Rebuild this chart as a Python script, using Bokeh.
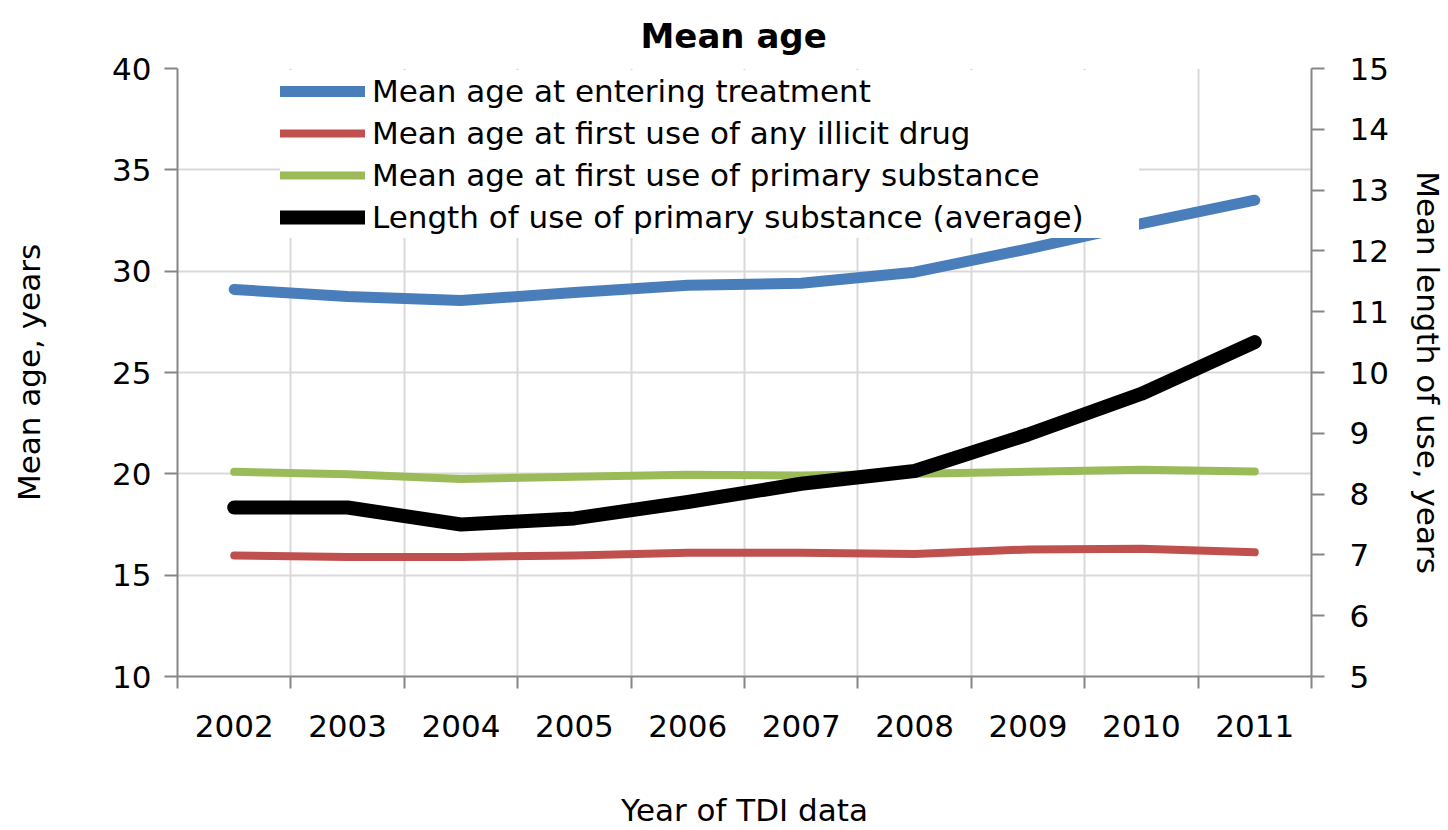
from bokeh.plotting import figure
from bokeh.models import Range1d, LinearAxis, FixedTicker, Legend, LegendItem
from bokeh.embed import file_html
from bokeh.resources import INLINE

# ---- data ----
years = [2002, 2003, 2004, 2005, 2006, 2007, 2008, 2009, 2010, 2011]
year_labels = ["2002", "2003", "2004", "2005", "2006", "2007", "2008", "2009", "2010", "2011"]
age_entering = [29.1, 28.75, 28.55, 28.95, 29.3, 29.4, 29.95, 31.1, 32.35, 33.5]
age_first_illicit = [15.97, 15.9, 15.9, 15.97, 16.1, 16.1, 16.05, 16.27, 16.3, 16.13]
age_first_primary = [20.1, 19.98, 19.75, 19.85, 19.95, 19.92, 20.0, 20.1, 20.2, 20.12]
length_of_use = [7.78, 7.78, 7.5, 7.6, 7.87, 8.17, 8.38, 8.98, 9.65, 10.5]

chart_title = "Mean age"
series_names = [
    "Mean age at entering treatment",
    "Mean age at first use of any illicit drug",
    "Mean age at first use of primary substance",
    "Length of use of primary substance (average)",
]
left_ticks = [10, 15, 20, 25, 30, 35, 40]
right_ticks = [5, 6, 7, 8, 9, 10, 11, 12, 13, 14, 15]

FONT = "DejaVu Sans"
FS = "31px"
AXIS_COLOR = "#868686"
GRID_COLOR = "#D9D9D9"

boundaries = [y - 0.5 for y in years] + [years[-1] + 0.5]

p = figure(
    width=1448, height=830,
    x_range=Range1d(boundaries[0], boundaries[-1]),
    y_range=Range1d(left_ticks[0], left_ticks[-1]),
    output_backend="svg", toolbar_location=None,
    min_border_left=177, min_border_right=134,
    min_border_top=68, min_border_bottom=152,
    title=chart_title,
)
p.outline_line_color = None
p.background_fill_color = "white"
p.border_fill_color = "white"

# title
p.title.text_font = FONT
p.title.text_font_size = "34px"
p.title.text_font_style = "bold"
p.title.text_color = "black"
p.title.align = "left"
p.title.offset = 463
p.title.standoff = 25

p.extra_y_ranges = {"len": Range1d(right_ticks[0], right_ticks[-1])}

# x axis
xa = p.xaxis[0]
xa.ticker = FixedTicker(ticks=years, minor_ticks=boundaries)
xa.major_label_overrides = {y: lab for y, lab in zip(years, year_labels)}
xa.major_tick_line_color = None
xa.major_tick_out = 0
xa.major_tick_in = 0
xa.minor_tick_in = 0
xa.minor_tick_out = 12
xa.minor_tick_line_color = AXIS_COLOR
xa.minor_tick_line_width = 2
xa.axis_line_color = AXIS_COLOR
xa.axis_line_width = 2
xa.major_label_text_font = FONT
xa.major_label_text_font_size = FS
xa.major_label_text_color = "black"
xa.major_label_standoff = 26
xa.axis_label = "Year of TDI data"
xa.axis_label_text_font = FONT
xa.axis_label_text_font_size = FS
xa.axis_label_text_font_style = "normal"
xa.axis_label_text_color = "black"
xa.axis_label_standoff = 52

# left axis
ya = p.yaxis[0]
ya.ticker = FixedTicker(ticks=left_ticks)
ya.minor_tick_line_color = None
ya.major_tick_in = 0
ya.major_tick_out = 13
ya.major_tick_line_color = AXIS_COLOR
ya.major_tick_line_width = 2
ya.axis_line_color = AXIS_COLOR
ya.axis_line_width = 2
ya.major_label_text_font = FONT
ya.major_label_text_font_size = FS
ya.major_label_text_color = "black"
ya.major_label_standoff = 13
ya.axis_label = "Mean age, years"
ya.axis_label_text_font = FONT
ya.axis_label_text_font_size = FS
ya.axis_label_text_font_style = "normal"
ya.axis_label_text_color = "black"
ya.axis_label_standoff = 62

# right axis
ra = LinearAxis(y_range_name="len", ticker=FixedTicker(ticks=right_ticks))
ra.minor_tick_line_color = None
ra.major_tick_in = 0
ra.major_tick_out = 13
ra.major_tick_line_color = AXIS_COLOR
ra.major_tick_line_width = 2
ra.axis_line_color = AXIS_COLOR
ra.axis_line_width = 2
ra.major_label_text_font = FONT
ra.major_label_text_font_size = FS
ra.major_label_text_color = "black"
ra.major_label_standoff = 25
ra.axis_label = "Mean length of use, years"
ra.axis_label_text_font = FONT
ra.axis_label_text_font_size = FS
ra.axis_label_text_font_style = "normal"
ra.axis_label_text_color = "black"
ra.axis_label_standoff = 18
p.add_layout(ra, "right")

# grids
p.xgrid.ticker = FixedTicker(ticks=boundaries)
p.xgrid.grid_line_color = GRID_COLOR
p.xgrid.grid_line_width = 2
p.ygrid.ticker = FixedTicker(ticks=left_ticks)
p.ygrid.grid_line_color = GRID_COLOR
p.ygrid.grid_line_width = 2

# lines
r1 = p.line(years, age_entering, line_color="#4A7EBB", line_width=11, line_cap="round", line_join="round")
r2 = p.line(years, age_first_illicit, line_color="#C0504D", line_width=8, line_cap="round", line_join="round")
r3 = p.line(years, age_first_primary, line_color="#9BBB59", line_width=8, line_cap="round", line_join="round")
r4 = p.line(years, length_of_use, y_range_name="len", line_color="#000000", line_width=14, line_cap="round", line_join="round")

legend = Legend(
    items=[LegendItem(label=n, renderers=[r]) for n, r in zip(series_names, [r1, r2, r3, r4])],
    location=(103, 438),
    orientation="vertical",
    glyph_width=85, glyph_height=42, label_height=42, label_width=767,
    label_standoff=7, spacing=0, padding=1, margin=0,
    border_line_color=None, background_fill_color="white", background_fill_alpha=1.0,
    label_text_font=FONT, label_text_font_size=FS, label_text_color="black",
)
p.add_layout(legend)

open("out.html", "w").write(file_html(p, INLINE))
